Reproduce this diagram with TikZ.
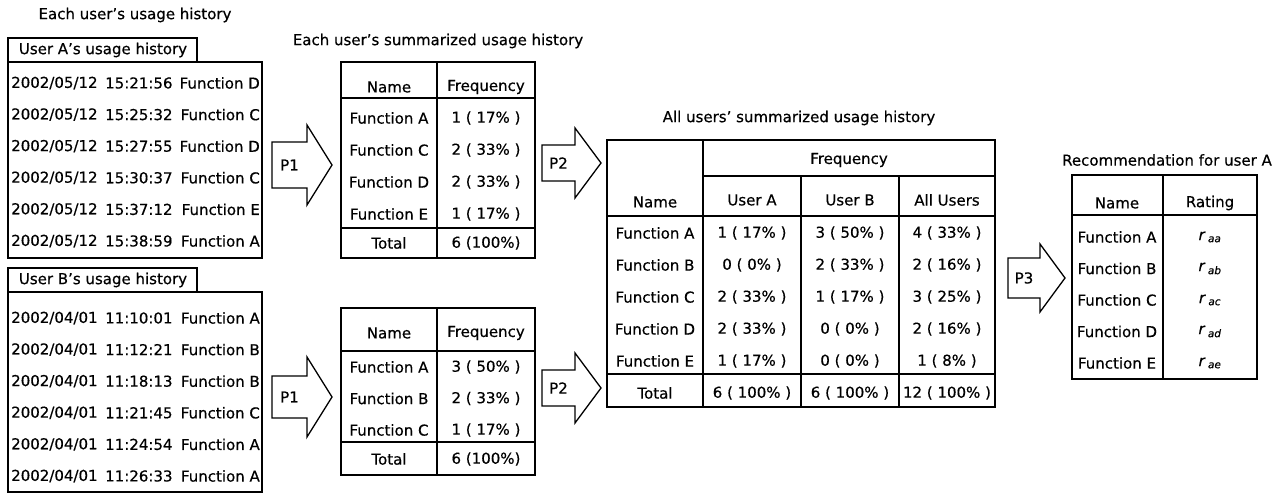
\documentclass[tikz,border=0pt]{standalone}
\usepackage{fontspec}
\setmainfont{DejaVu Sans}[FakeBold=0.5]

\tikzset{
  lbl/.style={font=\fontsize{15}{18}\selectfont, inner sep=0pt},
  tbl/.style={line width=1.3pt},
  parrow/.style={draw, line width=1.3pt, fill=white, line join=miter},
}

\begin{document}
\begin{tikzpicture}[x=1pt,y=-1pt]
  \useasboundingbox (0,0) rectangle (1278,494);

  % usage history of user A
  \node[lbl] (histtitle) at (135,15) {Each user's usage history};
  \draw[tbl] (8,38) rectangle (197,62);
  \node[lbl] (histA) at (103,50) {User A's usage history};
  \draw[tbl] (8,62) rectangle (262,258);
  \foreach \t/\f [count=\i] in {15:21:56/D,15:25:32/C,15:27:55/D,15:30:37/C,15:37:12/E,15:38:59/A}{
    \pgfmathsetmacro\yy{83+31.6*(\i-1)}
    \node[lbl,anchor=west] (dateA\i) at (11,\yy) {2002/05/12};
    \node[lbl,anchor=west] (timeA\i) at (105,\yy) {\t};
    \node[lbl,anchor=east] (funcA\i) at (260,\yy) {Function \f};
  }

  % usage history of user B
  \draw[tbl] (8,268) rectangle (197,292);
  \node[lbl] (histB) at (103,280) {User B's usage history};
  \draw[tbl] (8,292) rectangle (262,492);
  \foreach \t/\f [count=\i] in {11:10:01/A,11:12:21/B,11:18:13/B,11:21:45/C,11:24:54/A,11:26:33/A}{
    \pgfmathsetmacro\yy{318+31.6*(\i-1)}
    \node[lbl,anchor=west] (dateB\i) at (11,\yy) {2002/04/01};
    \node[lbl,anchor=west] (timeB\i) at (105,\yy) {\t};
    \node[lbl,anchor=east] (funcB\i) at (260,\yy) {Function \f};
  }

  % block arrows P1, P2, P3
  \foreach \n/\xa/\xb/\xc/\cy/\h/\H/\txt in {
      p1a/272/307/332/165/23/40/P1, p1b/272/307/332/397/21/40/P1,
      p2a/542/575/601/163/18/35/P2, p2b/542/575/601/388/18/35/P2,
      p3/1008/1040/1065/278/20/34/P3}{
    \draw[parrow] (\xa,\cy-\h) -- (\xb,\cy-\h) -- (\xb,\cy-\H) -- (\xc,\cy)
      -- (\xb,\cy+\H) -- (\xb,\cy+\h) -- (\xa,\cy+\h) -- cycle;
    \node[lbl] (\n) at ({(\xa+\xb)/2},\cy) {\txt};
  }

  % summary of user A
  \node[lbl] (sumtitle) at (438,41) {Each user's summarized usage history};
  \draw[tbl] (341,62) rectangle (535,258);
  \draw[tbl] (437,62) -- (437,258);
  \draw[tbl] (341,98) -- (535,98) (341,228) -- (535,228);
  \node[lbl] (sumA-name) at (389,87) {Name};
  \node[lbl] (sumA-freq) at (486,87) {Frequency};
  \foreach \f/\v [count=\i] in {A/1 ( 17\% ),C/2 ( 33\% ),D/2 ( 33\% ),E/1 ( 17\% )}{
    \pgfmathsetmacro\yy{118+32*(\i-1)}
    \node[lbl] (sumA-f\i) at (389,\yy) {Function \f};
    \node[lbl] (sumA-v\i) at (486,\yy) {\v};
  }
  \node[lbl] (sumA-tot) at (389,243) {Total};
  \node[lbl] (sumA-totv) at (486,243) {6 (100\%)};

  % summary of user B
  \draw[tbl] (341,308) rectangle (535,475);
  \draw[tbl] (437,308) -- (437,475);
  \draw[tbl] (341,351) -- (535,351) (341,442) -- (535,442);
  \node[lbl] (sumB-name) at (389,333) {Name};
  \node[lbl] (sumB-freq) at (486,333) {Frequency};
  \foreach \f/\v [count=\i] in {A/3 ( 50\% ),B/2 ( 33\% ),C/1 ( 17\% )}{
    \pgfmathsetmacro\yy{367+31.5*(\i-1)}
    \node[lbl] (sumB-f\i) at (389,\yy) {Function \f};
    \node[lbl] (sumB-v\i) at (486,\yy) {\v};
  }
  \node[lbl] (sumB-tot) at (389,459) {Total};
  \node[lbl] (sumB-totv) at (486,459) {6 (100\%)};

  % all users
  \node[lbl] (alltitle) at (799,118) {All users' summarized usage history};
  \draw[tbl] (607,140) rectangle (995,407);
  \draw[tbl] (703,140) -- (703,407);
  \draw[tbl] (801,176) -- (801,407) (899,176) -- (899,407);
  \draw[tbl] (703,176) -- (995,176);
  \draw[tbl] (607,216) -- (995,216) (607,374) -- (995,374);
  \node[lbl] (all-freq) at (849,160) {Frequency};
  \node[lbl] (all-name) at (655,202) {Name};
  \node[lbl] (all-ua) at (752,200) {User A};
  \node[lbl] (all-ub) at (850,200) {User B};
  \node[lbl] (all-all) at (947,200) {All Users};
  \foreach \f/\ua/\ub/\al [count=\i] in {
      A/1 ( 17\% )/3 ( 50\% )/4 ( 33\% ),
      B/0 ( 0\% )/2 ( 33\% )/2 ( 16\% ),
      C/2 ( 33\% )/1 ( 17\% )/3 ( 25\% ),
      D/2 ( 33\% )/0 ( 0\% )/2 ( 16\% ),
      E/1 ( 17\% )/0 ( 0\% )/1 ( 8\% )}{
    \pgfmathsetmacro\yy{233+32*(\i-1)}
    \node[lbl] (all-f\i) at (655,\yy) {Function \f};
    \node[lbl] (all-a\i) at (752,\yy) {\ua};
    \node[lbl] (all-b\i) at (850,\yy) {\ub};
    \node[lbl] (all-s\i) at (947,\yy) {\al};
  }
  \node[lbl] (all-tot) at (655,393) {Total};
  \node[lbl] (all-tota) at (752,393) {6 ( 100\% )};
  \node[lbl] (all-totb) at (850,393) {6 ( 100\% )};
  \node[lbl] (all-tots) at (947,393) {12 ( 100\% )};

  % recommendation
  \node[lbl] (rectitle) at (1167,160) {Recommendation for user A};
  \draw[tbl] (1072,175) rectangle (1257,379);
  \draw[tbl] (1163,175) -- (1163,379);
  \draw[tbl] (1072,215) -- (1257,215);
  \node[lbl] (rec-name) at (1117,203) {Name};
  \node[lbl] (rec-rate) at (1210,203) {Rating};
  \foreach \F/\f [count=\i] in {A/a,B/b,C/c,D/d,E/e}{
    \pgfmathsetmacro\yy{237+31.5*(\i-1)}
    \node[lbl] (rec-f\i) at (1117,\yy) {Function \F};
    \node[lbl] (rec-r\i) at (1210,\yy) {\textit{r}\,\textsubscript{\textit{a\f}}};
  }
\end{tikzpicture}
\end{document}
